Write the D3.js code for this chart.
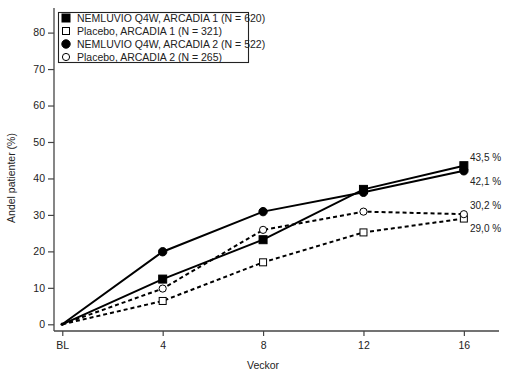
<!DOCTYPE html>
<html><head><meta charset="utf-8">
<script src="https://cdn.jsdelivr.net/npm/d3@7"></script>
<style>body{margin:0;background:#fff}svg{display:block}text{font-family:"Liberation Sans",Arial,sans-serif;fill:#222}</style>
</head><body><svg id="c" width="507" height="381"></svg>
<script>
const weeks = [0, 4, 8, 12, 16];
const weekLabels = ["BL", "4", "8", "12", "16"];
const yTicks = [0, 10, 20, 30, 40, 50, 60, 70, 80];
const seriesNames = ["NEMLUVIO Q4W, ARCADIA 1 (N = 620)", "Placebo, ARCADIA 1 (N = 321)", "NEMLUVIO Q4W, ARCADIA 2 (N = 522)", "Placebo, ARCADIA 2 (N = 265)"];
const nemA1 = [0, 12.4, 23.2, 37.0, 43.5];
const plaA1 = [0, 6.4, 17.0, 25.2, 29.0];
const nemA2 = [0, 19.9, 30.9, 36.2, 42.1];
const plaA2 = [0, 9.8, 25.9, 30.9, 30.2];
const endLabels = ["43,5 %", "42,1 %", "30,2 %", "29,0 %"];

const svg = d3.select("#c");
const x = d3.scaleLinear().domain([-0.33, 17.4]).range([54, 499]);
const y = d3.scaleLinear().domain([0, 80]).range([324.3, 32.6]);

const yAxis = svg.append("g").attr("transform","translate(54,0)")
  .call(d3.axisLeft(y).tickValues(yTicks).tickSize(6).tickPadding(3).tickSizeOuter(0));
yAxis.select(".domain").attr("d","M0,8V331");
const xAxis = svg.append("g").attr("transform","translate(0,331)")
  .call(d3.axisBottom(x).tickValues(weeks).tickFormat((d,i)=>weekLabels[i]).tickSize(5).tickPadding(6).tickSizeOuter(0));
xAxis.select(".domain").attr("d","M54,0H499");
svg.selectAll(".domain").attr("stroke","#444").attr("stroke-width",1.3);
svg.selectAll(".tick line").attr("stroke","#444").attr("stroke-width",1.2);
svg.selectAll(".tick text").attr("font-size",10.5).attr("fill","#222").attr("font-family","Liberation Sans, Arial, sans-serif");

svg.append("text").attr("x",x(8)).attr("y",369).attr("text-anchor","middle").attr("font-size",10.5).text("Veckor");
svg.append("text").attr("transform","translate(15,178) rotate(-90)").attr("text-anchor","middle").attr("font-size",10.5).text("Andel patienter (%)");

const series = [
  {vals: nemA1, dash: null, marker: "square", fill: "#000"},
  {vals: plaA1, dash: "4,3", marker: "square", fill: "#fff"},
  {vals: nemA2, dash: null, marker: "circle", fill: "#000"},
  {vals: plaA2, dash: "4,3", marker: "circle", fill: "#fff"}
];
const line = d3.line().x((d,i)=>x(weeks[i])).y(d=>y(d));
const drawOrder = [1,3,2,0];
drawOrder.forEach(si=>{
  const s = series[si];
  svg.append("path").attr("d", line(s.vals)).attr("fill","none").attr("stroke","#000")
    .attr("stroke-width",2).attr("stroke-dasharray", s.dash);
});
function marker(g, s, cx, cy){
  if (s.marker==="square") {
    const sz = s.fill==="#000" ? 8 : 7;
    g.append("rect").attr("x",cx-sz/2).attr("y",cy-sz/2).attr("width",sz).attr("height",sz)
      .attr("fill",s.fill).attr("stroke","#000").attr("stroke-width",1);
  } else {
    const r = s.fill==="#000" ? 4.2 : 3.6;
    g.append("circle").attr("cx",cx).attr("cy",cy).attr("r",r)
      .attr("fill",s.fill).attr("stroke","#000").attr("stroke-width",1);
  }
}
drawOrder.forEach(si=>{
  const s = series[si];
  s.vals.forEach((v,i)=>{ if(i>0) marker(svg, s, x(weeks[i]), y(v)); });
});
svg.append("circle").attr("cx",x(0)).attr("cy",y(0)).attr("r",1.8).attr("fill","#000");

const endY = [157, 181, 205, 228];
endLabels.forEach((t,i)=>{
  svg.append("text").attr("x",470).attr("y",endY[i]).attr("dy","0.35em").attr("font-size",10).text(t);
});

const lg = svg.append("g");
lg.append("rect").attr("x",58.5).attr("y",12.5).attr("width",190).attr("height",50).attr("fill","#fff").attr("stroke","#222").attr("stroke-width",1.1);
const rowY = [18, 31, 44, 57];
seriesNames.forEach((n,i)=>{
  marker(lg, series[i], 66, rowY[i]);
  lg.append("text").attr("x",77).attr("y",rowY[i]).attr("dy","0.35em").attr("font-size",10.5).text(n);
});
</script></body></html>
